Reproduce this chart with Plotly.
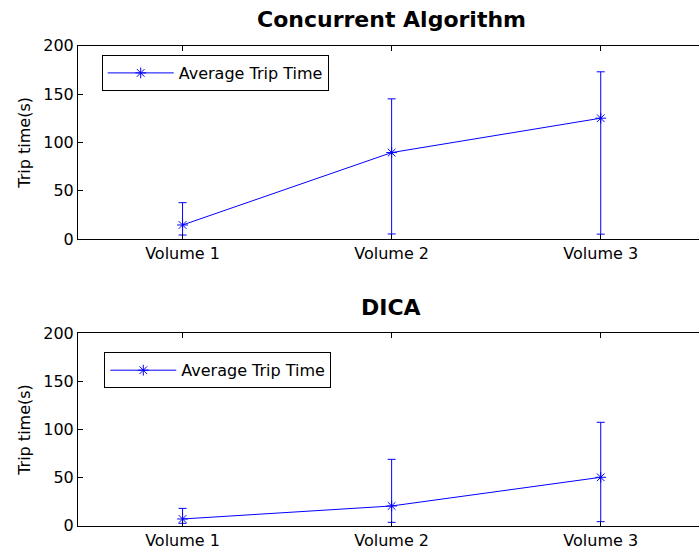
import plotly.graph_objects as go

categories = [1, 2, 3]
tick_labels = ["Volume 1", "Volume 2", "Volume 3"]

conc_mean = [14.5, 89.4, 125.0]
conc_upper = [37.6, 145.0, 173.0]
conc_lower = [4.1, 5.2, 5.0]

dica_mean = [7.0, 20.5, 50.3]
dica_upper = [18.0, 69.0, 107.5]
dica_lower = [2.5, 3.5, 4.2]

BLUE = "#0000FF"
FONT = "DejaVu Sans, sans-serif"
W, H = 699, 556
L = 78
PW = W - L

fig = go.Figure()

def add(mean, up, lo, xa, ya, legend):
    fig.add_trace(go.Scatter(
        x=categories, y=mean, xaxis=xa, yaxis=ya, legend=legend,
        mode="lines+markers", name="Average Trip Time",
        line=dict(color=BLUE, width=1),
        marker=dict(symbol="asterisk-open", size=9, color=BLUE,
                    line=dict(color=BLUE, width=1)),
        error_y=dict(type="data", symmetric=False,
                     array=[u - m for u, m in zip(up, mean)],
                     arrayminus=[m - l for m, l in zip(mean, lo)],
                     color=BLUE, thickness=1, width=4),
    ))

add(conc_mean, conc_upper, conc_lower, "x", "y", "legend")
add(dica_mean, dica_upper, dica_lower, "x2", "y2", "legend2")

xcommon = dict(range=[0.5, 3.47], tickmode="array", tickvals=categories,
               ticktext=tick_labels, ticks="inside", ticklen=5, tickcolor="black",
               showline=True, linecolor="black", linewidth=1, mirror="ticks",
               showgrid=False, zeroline=False, automargin=False,
               tickfont=dict(family=FONT, size=16, color="black"))
ycommon = dict(range=[0, 200], dtick=50, ticks="inside", ticklen=5, tickcolor="black",
               showline=True, linecolor="black", linewidth=1,
               showgrid=False, zeroline=False, automargin=False,
               tickfont=dict(family=FONT, size=16, color="black"),
               title=dict(text="Trip time(s)", font=dict(family=FONT, size=16, color="black"),
                          standoff=8))

legend_style = dict(xanchor="left", yanchor="top", xref="paper", yref="paper",
                    bordercolor="black", borderwidth=1, bgcolor="white", itemwidth=66,
                    font=dict(family=FONT, size=16, color="black"))

fig.update_layout(
    width=W, height=H,
    margin=dict(l=L, r=0, t=0, b=0, autoexpand=False),
    paper_bgcolor="white", plot_bgcolor="white",
    xaxis=dict(xcommon, domain=[0, 1], anchor="y"),
    yaxis=dict(ycommon, domain=[1 - 239 / H, 1 - 45.7 / H], anchor="x"),
    xaxis2=dict(xcommon, domain=[0, 1], anchor="y2"),
    yaxis2=dict(ycommon, domain=[1 - 525.7 / H, 1 - 333.3 / H], anchor="x2"),
    legend=dict(legend_style, x=(101.7 - L) / PW, y=1 - 55 / H),
    legend2=dict(legend_style, x=(104.3 - L) / PW, y=1 - 352.3 / H),
    showlegend=True,
    annotations=[
        dict(text="<b>Concurrent Algorithm</b>", x=(391 - L) / PW, y=1 - 19 / H,
             xref="paper", yref="paper", xanchor="center", yanchor="middle",
             showarrow=False, font=dict(family=FONT, size=22, color="black")),
        dict(text="<b>DICA</b>", x=(391 - L) / PW, y=1 - 307 / H,
             xref="paper", yref="paper", xanchor="center", yanchor="middle",
             showarrow=False, font=dict(family=FONT, size=22, color="black")),
    ],
)

fig.write_html("out.html")
